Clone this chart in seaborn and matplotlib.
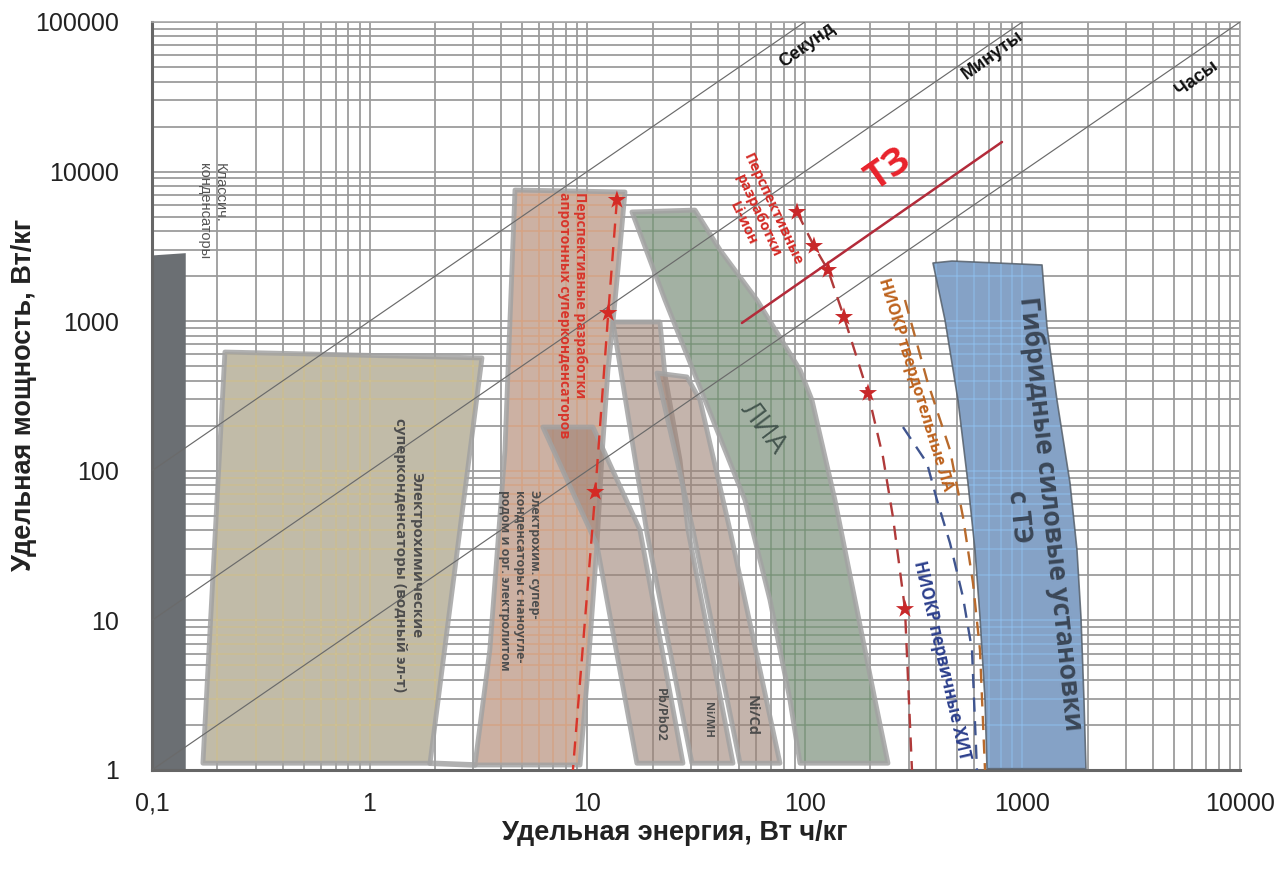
import numpy as np
import matplotlib
matplotlib.use("Agg")
import matplotlib.pyplot as plt
from matplotlib.patches import Polygon
from matplotlib.ticker import LogLocator, NullFormatter
import seaborn as sns

sns.set_theme(style="white")
plt.rcParams["font.family"] = ["Liberation Sans", "DejaVu Sans"]

# ---- axes ---------------------------------------------------------------
x_ticks = [0.1, 1, 10, 100, 1000, 10000]
x_tick_labels = ["0,1", "1", "10", "100", "1000", "10000"]
y_ticks = [1, 10, 100, 1000, 10000, 100000]
y_tick_labels = ["1", "10", "100", "1000", "10000", "100000"]
x_label = "Удельная энергия, Вт ч/кг"
y_label = "Удельная мощность, Вт/кг"

# ---- constant discharge-time guides (P = k * E) --------------------------
guide_k = [1000, 100, 10]
guide_names = ["Секунд", "Минуты", "Часы"]
guide_label_E = [103, 733, 6340]
guide_label_P = [70000, 60000, 42000]

# ---- technology regions: energy (Вт ч/кг) and power (Вт/кг) -------------
classic_E = [0.1, 0.1, 0.143, 0.143]
classic_P = [1.0, 2750, 2850, 1.0]

aqueous_E = [0.2165, 3.285, 1.896, 0.1715]
aqueous_P = [622, 568, 1.11, 1.11]

aprotic_E = [4.66, 14.92, 13.85, 13.14, 12.46, 11.7, 11.09, 10.0, 9.27, 3.05, 3.57, 4.19]
aprotic_P = [7530, 7305, 2199, 988, 472, 127.5, 31.9, 4.0, 1.08, 1.08, 6.34, 137.7]

pb_E = [6.26, 10.63, 17.48, 27.56, 16.93, 11.09]
pb_P = [196, 196, 40.2, 1.11, 1.11, 31.9]

nimh_E = [13.14, 21.6, 22.78, 26.7, 29.06, 46.8, 30.3, 18.83]
nimh_P = [988, 988, 437, 118, 40.2, 1.11, 1.11, 38.4]

nicd_E = [20.93, 28.75, 33.0, 45.3, 76.9, 50.4, 30.63, 25.86]
nicd_P = [450, 424, 297, 40.2, 1.11, 1.11, 40.2, 118]

lia_E = [16.07, 31.3, 40.8, 60.3, 95.1, 107.9, 137.6, 170.1, 210.2, 241.2,
         95.1, 85.5, 69.2, 53.1, 34.8, 22.78]
lia_P = [5370, 5530, 2992, 1386, 472, 297, 63.8, 13.7, 2.94, 1.11,
         1.11, 2.94, 13.7, 63.8, 297, 1386]

hybrid_E = [388.3, 474.8, 1231, 1298, 1442, 1655, 1782, 1859, 1919, 1960,
            687.7, 673.3, 638.5, 605.6, 562.3, 505.8, 440.9]
hybrid_P = [2449, 2524, 2376, 915, 297, 82.9, 29.6, 10.5, 2.94, 1.02,
            1.02, 2.94, 10.5, 29.6, 82.9, 297, 1019]

# bottom rim joining the aqueous and aprotic regions
rim_E = [1.896, 3.05]
rim_P = [1.11, 1.08]

# ---- development trends ---------------------------------------------------
aprotic_trend_E = [13.7, 12.5, 10.9, 8.6]
aprotic_trend_P = [6460, 1134, 72.2, 1.0]
aprotic_star_count = 3

liion_trend_E = [92.1, 110.2, 127.9, 151.4, 195.2, 228.8, 254.2, 288.7, 310.9]
liion_trend_P = [5370, 3182, 2199, 1067, 331, 123.6, 49.1, 11.9, 1.0]
liion_star_idx = [0, 1, 2, 3, 4, 7]

solid_E = [288.7, 364.4, 464.9, 533.4, 592.9, 638.5, 673.3]
solid_P = [1386, 404.6, 137.7, 49.1, 17.8, 6.34, 1.0]

primary_E = [282.7, 364.4, 405, 464.9, 533.4, 586.7, 618.4]
primary_P = [196, 112.7, 63.8, 32.9, 14.3, 6.34, 1.0]

fc_target_E = [51.4, 805.7]
fc_target_P = [972.8, 15770]

# ---- figure ----------------------------------------------------------------
fig = plt.figure(figsize=(12.79, 8.73), dpi=100)
ax = fig.add_axes([0.1188, 0.118, 0.8507, 0.8568])
ax.set_xscale("log")
ax.set_yscale("log")
ax.set_xlim(0.1, 10000)
ax.set_ylim(1, 100000)

ax.xaxis.set_minor_locator(LogLocator(base=10, subs=np.arange(2, 10), numticks=100))
ax.yaxis.set_minor_locator(LogLocator(base=10, subs=np.arange(2, 10), numticks=100))
ax.xaxis.set_minor_formatter(NullFormatter())
ax.yaxis.set_minor_formatter(NullFormatter())
ax.set_axisbelow(True)
ax.grid(which="both", color="#9c9c9c", lw=1.3, zorder=0)

grid_x = [m * 10.0 ** d for d in range(-1, 4) for m in range(1, 10)] + [10000]
grid_y = [m * 10.0 ** d for d in range(0, 5) for m in range(1, 10)] + [100000]

OPEN = ["Open Sans", "DejaVu Sans"]


def region(E, P, face, alpha, z, edge="#a2a2a2", lw=3.5, tint=None, tint_alpha=0.5):
    verts = np.column_stack([E, P])
    fill = Polygon(verts, closed=True, facecolor=face, edgecolor="none",
                   alpha=alpha, zorder=z)
    ax.add_patch(fill)
    if tint is not None:
        vl = ax.vlines(grid_x, 1, 100000, colors=tint, lw=1.3, alpha=tint_alpha, zorder=z + 0.03)
        hl = ax.hlines(grid_y, 0.1, 10000, colors=tint, lw=1.3, alpha=tint_alpha, zorder=z + 0.03)
        vl.set_clip_path(fill)
        hl.set_clip_path(fill)
    if edge is not None:
        ax.add_patch(Polygon(verts, closed=True, fill=False, edgecolor=edge, lw=lw,
                             alpha=0.85, joinstyle="round", zorder=z + 0.06))


region(classic_E, classic_P, "#6b6f73", 1.0, 2.0, edge=None)
region(aqueous_E, aqueous_P, "#bdb6a2", 0.93, 2.1, tint="#d6c68c", tint_alpha=0.55)
ax.plot(rim_E, rim_P, color="#a2a2a2", lw=4, alpha=0.85, solid_capstyle="round", zorder=2.15)
region(aprotic_E, aprotic_P, "#c8ab9c", 0.93, 2.2, tint="#e0a27a", tint_alpha=0.5)
region(pb_E, pb_P, "#9e8275", 0.6, 2.3)
region(nimh_E, nimh_P, "#9e8275", 0.6, 2.4)
region(nicd_E, nicd_P, "#9e8275", 0.6, 2.5)
region(lia_E, lia_P, "#9cab9c", 0.93, 2.6, tint="#6f8d6f", tint_alpha=0.55)
region(hybrid_E, hybrid_P, "#7e9dc3", 0.95, 2.7, edge="#56606b", lw=1.2,
       tint="#92c0ee", tint_alpha=0.6)

# constant-time guides
for k in guide_k:
    sns.lineplot(x=[0.1, 100000 / k], y=[0.1 * k, 100000], color="#6a6a6a", lw=0.85,
                 sort=False, estimator=None, ax=ax, zorder=4)
for name, e, p in zip(guide_names, guide_label_E, guide_label_P):
    ax.text(e, p, name, rotation=36, ha="center", va="center", fontsize=13,
            fontweight="bold", color="#111111", zorder=7)


def trend(E, P, color, dash=(6, 4), lw=1.7):
    sns.lineplot(x=E, y=P, color=color, lw=lw, sort=False, estimator=None, ax=ax, zorder=5)
    ax.lines[-1].set_dashes(dash)


trend(aprotic_trend_E, aprotic_trend_P, "#d8352b")
sns.scatterplot(x=aprotic_trend_E[:aprotic_star_count], y=aprotic_trend_P[:aprotic_star_count],
                marker="*", s=190, color="#d42a25", edgecolor="none", ax=ax, zorder=6)
trend(liion_trend_E, liion_trend_P, "#b03a3a")
sns.scatterplot(x=[liion_trend_E[i] for i in liion_star_idx],
                y=[liion_trend_P[i] for i in liion_star_idx],
                marker="*", s=190, color="#c8282a", edgecolor="none", ax=ax, zorder=6)
trend(solid_E, solid_P, "#b86a2c")
trend(primary_E, primary_P, "#40558f")

sns.lineplot(x=fc_target_E, y=fc_target_P, color="#b32b3a", lw=1.8, sort=False,
             estimator=None, ax=ax, zorder=5)

# ---- region labels ---------------------------------------------------------
ax.text(0.1887, 11400, "Классич.\nконденсаторы", rotation=270, ha="center", va="top",
        multialignment="left", fontsize=10.5, color="#555555", zorder=7)
ax.text(1.5, 27.4, "Электрохимические\nсуперконденсаторы (водный эл-т)", rotation=270,
        ha="center", va="center", multialignment="center", fontsize=11,
        fontweight="bold", color="#4d4d4d", family=OPEN, zorder=7)
ax.text(8.51, 7300, "Перспективные разработки\nапротонных суперконденсаторов", rotation=270,
        ha="center", va="top", multialignment="left", fontsize=10, fontweight="bold",
        color="#d8352b", family=OPEN, zorder=7)
ax.text(4.91, 74.5, "Электрохим. супер-\nконденсаторы с наноугле-\nродом и орг. электролитом",
        rotation=270, ha="center", va="top", multialignment="left", fontsize=9,
        fontweight="bold", color="#4d4d4d", family=OPEN, zorder=7)
ax.text(21.6, 2.33, "Pb/PbO2", rotation=270, ha="center", va="center", fontsize=9,
        fontweight="bold", color="#4d4d4d", family=OPEN, zorder=7)
ax.text(35.9, 2.16, "Ni/MH", rotation=270, ha="center", va="center", fontsize=8,
        fontweight="bold", color="#4d4d4d", family=OPEN, zorder=7)
ax.text(57.2, 2.33, "Ni/Cd", rotation=270, ha="center", va="center", fontsize=10.5,
        fontweight="bold", color="#4d4d4d", family=OPEN, zorder=7)
ax.text(64.3, 193, "ЛИА", rotation=-53, ha="center", va="center", fontsize=20,
        color="#45564f", family=OPEN, zorder=7)
ax.text(61.0, 5050, "Перспективные\nразработки\nLi-ион", rotation=-65, ha="center",
        va="center", multialignment="center", fontsize=10.5, fontweight="bold",
        color="#d42a25", family=OPEN, zorder=7)
ax.text(241.2, 10250, "ТЗ", rotation=35, ha="center", va="center", fontsize=27,
        fontweight="bold", color="#e8222b", family=OPEN, zorder=7)
ax.text(320.9, 374.6, "НИОКР твердотельные ЛА", rotation=-73, ha="center", va="center",
        fontsize=11.5, fontweight="bold", color="#bd621d", family=OPEN, zorder=7)
ax.text(427.1, 5.44, "НИОКР первичные ХИТ", rotation=-77, ha="center", va="center",
        fontsize=12, fontweight="bold", color="#2c3f8c", family=OPEN, zorder=7)
ax.text(1143, 50.6, "Гибридные силовые установки\nс ТЭ", rotation=-84, ha="center",
        va="center", multialignment="center", fontsize=19, fontweight="bold",
        color="#3b4757", family=OPEN, zorder=7)

# ---- ticks, spines, axis titles ---------------------------------------------
ax.set_xticks(x_ticks)
ax.set_xticklabels(x_tick_labels)
ax.set_yticks(y_ticks)
ax.set_yticklabels(y_tick_labels)
ax.tick_params(axis="both", which="major", direction="inout", length=9, width=1.5,
               color="#555555", labelsize=18, labelcolor="#222222")
ax.tick_params(axis="x", which="major", pad=11)
ax.tick_params(axis="y", which="major", pad=19)
ax.tick_params(which="minor", length=0)

for side in ["left", "bottom"]:
    ax.spines[side].set_color("#666666")
    ax.spines[side].set_linewidth(2.2)
for side in ["top", "right"]:
    ax.spines[side].set_color("#a8a8a8")
    ax.spines[side].set_linewidth(1.2)

ax.set_xlabel(x_label, fontsize=19.5, fontweight="bold", color="#222222")
ax.set_ylabel(y_label, fontsize=19.5, fontweight="bold", color="#222222")
ax.xaxis.set_label_coords(0.4807, -0.067)
ax.yaxis.set_label_coords(-0.106, 0.501)

fig.savefig("out.png", dpi=100)
